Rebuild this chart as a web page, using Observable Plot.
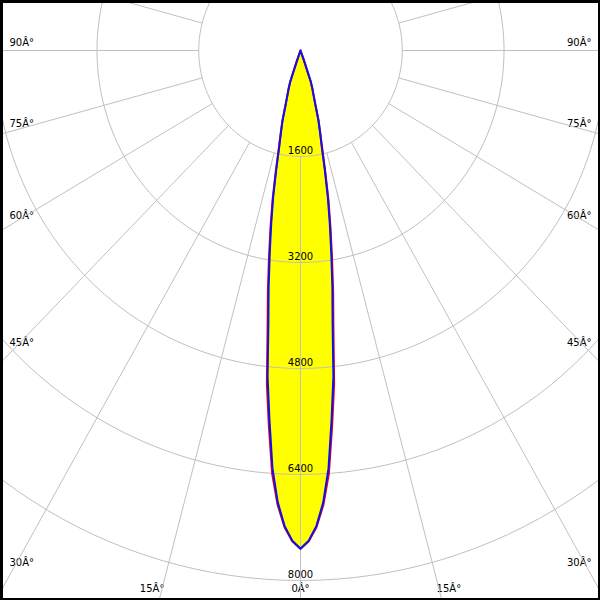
<!DOCTYPE html>
<html>
<head>
<meta charset="utf-8">
<script src="https://cdn.jsdelivr.net/npm/d3@7"></script>
<script src="https://cdn.jsdelivr.net/npm/@observablehq/plot@0.6"></script>
<style>
  html, body { margin: 0; padding: 0; background: #fff; }
  #chart svg { display: block; overflow: hidden; }
</style>
</head>
<body>
<div id="chart"></div>
<script>
// ---- data ----
const gammaAngles   = [0, 1, 2, 3, 4, 5, 6, 7, 8, 9, 10, 11, 12, 13, 14, 15, 16, 17, 18, 19, 20, 21];
const intensityBlue = [7520, 7400, 7180, 6830, 6320, 5600, 4950, 4140, 3600, 3090, 2650, 2250, 1830, 1480, 1260, 1090, 840, 700, 600, 490, 150, 0];
const intensityRed  = [7520, 7410, 7200, 6870, 6400, 5700, 5060, 4250, 3690, 3170, 2720, 2310, 1880, 1520, 1290, 1100, 850, 700, 600, 490, 150, 0];
const ringValues    = [1600, 3200, 4800, 6400, 8000];
const ringLabels    = ["1600", "3200", "4800", "6400", "8000"];
const spokeAngles   = [0, 15, 30, 45, 60, 75, 90, 105, 120, 135, 150, 165, 180, 195, 210, 225, 240, 255, 270, 285, 300, 315, 330, 345];
const degreeAngles  = [90, 75, 60, 45, 30, 15, 0];
const degreeLabels  = ["90Â°", "75Â°", "60Â°", "45Â°", "30Â°", "15Â°", "0Â°"];

// ---- layout ----
const W = 600, H = 600;
const cx = 300, cy = 50;          // pole position (px)
const kx = 0.0636, ky = 0.06625;  // px per cd (horizontal / vertical)
const rad = d => d * Math.PI / 180;
const polar = (deg, r) => ({x: r * Math.sin(rad(deg)), y: -r * Math.cos(rad(deg))});
const fromPx = (px, py) => ({x: (px - cx) / kx, y: (cy - py) / ky});

function outline(values) {
  const pts = [];
  for (let i = gammaAngles.length - 1; i >= 0; i--) pts.push(polar(-gammaAngles[i], values[i]));
  for (let i = 1; i < gammaAngles.length; i++) pts.push(polar(gammaAngles[i], values[i]));
  return pts;
}
const bluePts = outline(intensityBlue);
const redPts = outline(intensityRed);

const ringPts = ringValues.flatMap(v => d3.range(0, 361, 2).map(a => ({...polar(a, v), ring: v})));
const spokes = spokeAngles.map(a => {
  const p1 = polar(a, ringValues[0]), p2 = polar(a, 20000);
  return {x1: p1.x, y1: p1.y, x2: p2.x, y2: p2.y};
});
const ringText = ringValues.map((v, i) => ({...polar(0, v), label: ringLabels[i]}));

const degText = [];
degreeAngles.forEach((a, i) => {
  const sides = a === 0 ? [0] : [-1, 1];
  sides.forEach(s => {
    const dxp = Math.sin(rad(a)) * kx, dyp = Math.cos(rad(a)) * ky;
    const tSide = dxp > 0 ? 291 / dxp : Infinity;
    const tBot = dyp > 0 ? 538 / dyp : Infinity;
    if (tSide <= tBot) {
      const py = cy + tSide * dyp - (8 + 6 * Math.cos(rad(a)) ** 2);
      degText.push({...fromPx(cx + s * 291, py), label: degreeLabels[i], anchor: s < 0 ? "start" : "end"});
    } else {
      const px = cx + s * tBot * dxp + s * 10;
      degText.push({...fromPx(px, cy + 538), label: degreeLabels[i], anchor: "middle"});
    }
  });
});

const font = {fontFamily: "DejaVu Sans", fontSize: 10, fill: "black"};

const chart = Plot.plot({
  width: W, height: H, margin: 0,
  x: {domain: [-cx / kx, (W - cx) / kx], axis: null},
  y: {domain: [-(H - cy) / ky, cy / ky], axis: null},
  marks: [
    Plot.line(bluePts, {x: "x", y: "y", fill: "#ffff00", stroke: "none"}),
    Plot.text(ringText, {x: "x", y: "y", text: "label", ...font, textAnchor: "middle", dy: -6}),
    Plot.text(degText.filter(d => d.anchor === "start"), {x: "x", y: "y", text: "label", ...font, textAnchor: "start"}),
    Plot.text(degText.filter(d => d.anchor === "end"), {x: "x", y: "y", text: "label", ...font, textAnchor: "end"}),
    Plot.text(degText.filter(d => d.anchor === "middle"), {x: "x", y: "y", text: "label", ...font, textAnchor: "middle"}),
    Plot.line(ringPts, {x: "x", y: "y", z: "ring", stroke: "#c0c0c0", strokeWidth: 1, clip: true}),
    Plot.link(spokes, {x1: "x1", y1: "y1", x2: "x2", y2: "y2", stroke: "#c0c0c0", strokeWidth: 1, clip: true}),
    Plot.line(redPts, {x: "x", y: "y", stroke: "#e0002a", strokeWidth: 2}),
    Plot.line(bluePts, {x: "x", y: "y", stroke: "#1010e8", strokeWidth: 2}),
    Plot.frame({stroke: "black", strokeWidth: 5})
  ]
});
document.getElementById("chart").appendChild(chart);
</script>
</body>
</html>
